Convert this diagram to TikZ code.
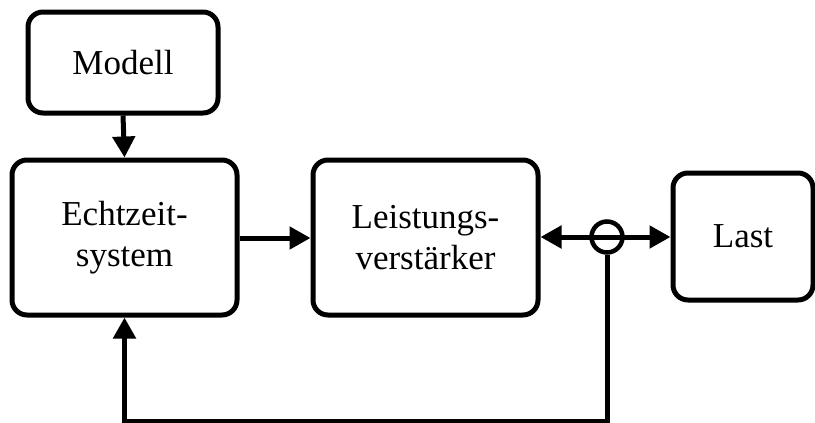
\documentclass[tikz,border=0pt]{standalone}
\usepackage{fontspec}
\setmainfont{Liberation Serif}
\usetikzlibrary{arrows.meta}
\begin{document}
\begin{tikzpicture}[x=1pt,y=-1pt,
  blk/.style={draw,line width=5pt,rounded corners=15pt,align=center,
    font=\fontsize{35}{41}\selectfont,inner sep=0pt},
  conn/.style={line width=5pt,-{Triangle[length=21pt,width=22pt]}},
  line/.style={line width=5pt}]
  \useasboundingbox (0,0) rectangle (815,423);
  % blocks
  \node[blk,minimum width=190pt,minimum height=101pt] (modell) at (123,62.5) {Modell};
  \node[blk,minimum width=225pt,minimum height=155pt] (echt) at (124.5,237.5) {Echtzeit-\\system};
  \node[blk,minimum width=225pt,minimum height=155pt] (leist) at (425.5,237.5) {Leistungs-\\verstärker};
  \node[blk,minimum width=140pt,minimum height=127pt] (last) at (743,236.5) {Last};
  % measuring point
  \node[draw,circle,line width=4.5pt,minimum size=31pt,inner sep=0pt] (mess) at (607,237) {};
  \coordinate (fb) at (607,421);
  % connectors
  \draw[conn] (modell.south) -- (echt.north);
  \draw[conn] (echt.east |- 0,238) -- (leist.west |- 0,238);
  \draw[conn] (mess.center) -- (leist.east |- mess.center);
  \draw[conn] (mess.center) -- (last.west |- mess.center);
  \draw[conn] (mess.south) -- (fb) -| (echt.south);
\end{tikzpicture}
\end{document}
